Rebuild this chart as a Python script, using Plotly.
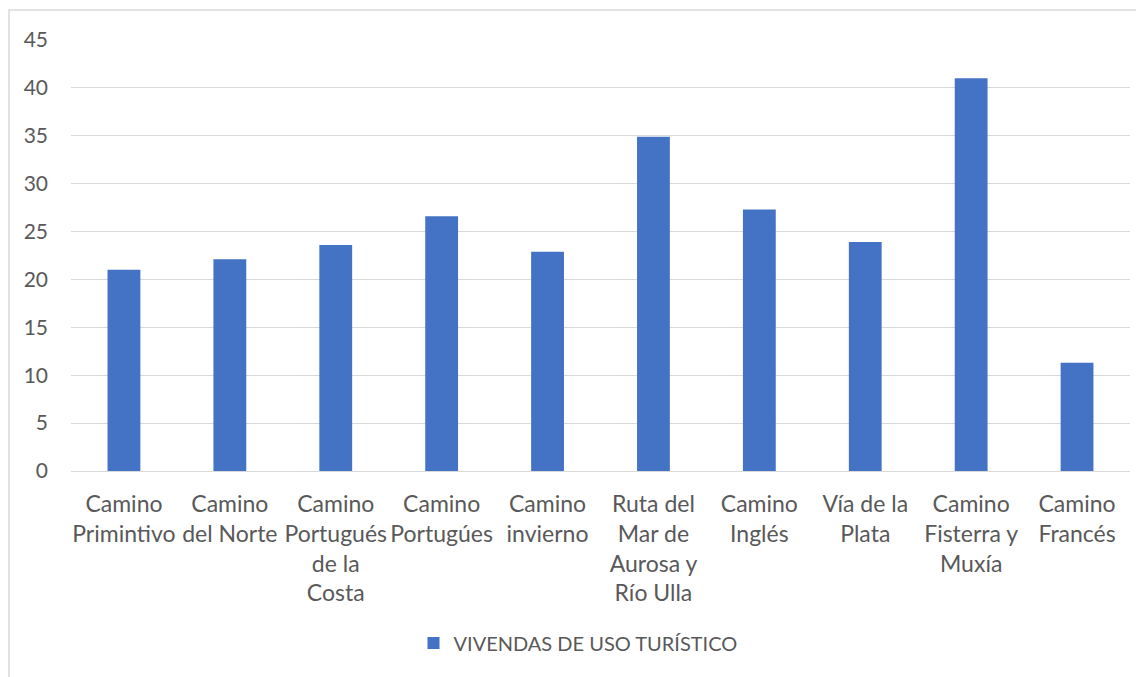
import plotly.graph_objects as go

categories = [
    "Camino<br>Primintivo",
    "Camino<br>del Norte",
    "Camino<br>Portugués<br>de la<br>Costa",
    "Camino<br>Portugúes",
    "Camino<br>invierno",
    "Ruta del<br>Mar de<br>Aurosa y<br>Río Ulla",
    "Camino<br>Inglés",
    "Vía de la<br>Plata",
    "Camino<br>Fisterra y<br>Muxía",
    "Camino<br>Francés",
]
values = [21.0, 22.1, 23.6, 26.6, 22.9, 34.9, 27.3, 23.9, 41.0, 11.3]
series_name = "VIVENDAS DE USO TURÍSTICO"
y_ticks = [0, 5, 10, 15, 20, 25, 30, 35, 40, 45]

OFF = 8  # page body margin
W, H = 1144 - OFF, 677 - OFF
L, R, T, B = 71 - OFF, 1130 - OFF, 40 - OFF, 471 - OFF
pw, ph = R - L, B - T

def px_x(p):
    return (p - OFF - L) / pw

def px_y(p):
    return (B - (p - OFF)) / ph

FONT = "Lato"
GREY = "#595959"
GRID = "#d9d9d9"

fig = go.Figure()
fig.add_trace(go.Bar(
    x=categories,
    y=values,
    name=series_name,
    marker=dict(color="#4472C4", line=dict(width=0)),
    width=0.31,
    showlegend=True,
))

fig.update_layout(
    width=W, height=H,
    margin=dict(l=L, r=W - R, t=T, b=H - B, autoexpand=False),
    paper_bgcolor="white",
    plot_bgcolor="white",
    font=dict(family=FONT, size=23, color=GREY),
    showlegend=True,
    legend=dict(
        orientation="h",
        x=px_x(578), xanchor="center",
        y=px_y(643), yanchor="middle",
        font=dict(family=FONT, size=20, color=GREY),
        bgcolor="rgba(0,0,0,0)",
    ),
    xaxis=dict(
        showgrid=False,
        showline=True, linecolor=GRID, linewidth=1.3,
        ticks="", tickangle=0,
        ticklabelstandoff=12,
        tickfont=dict(family=FONT, size=23, color=GREY),
        fixedrange=True,
    ),
    yaxis=dict(
        range=[0, 45],
        tickvals=y_ticks,
        showgrid=True, gridcolor=GRID, gridwidth=1.3,
        zeroline=False,
        showline=False,
        ticks="",
        ticklabelstandoff=22,
        tickfont=dict(family=FONT, size=21, color=GREY),
        fixedrange=True,
    ),
    shapes=[dict(
        type="rect", xref="paper", yref="paper",
        x0=px_x(9), x1=px_x(1160), y0=px_y(700), y1=px_y(10),
        line=dict(color=GRID, width=1.5),
        fillcolor="rgba(0,0,0,0)", layer="below",
    )],
)

fig.write_html("out.html")
